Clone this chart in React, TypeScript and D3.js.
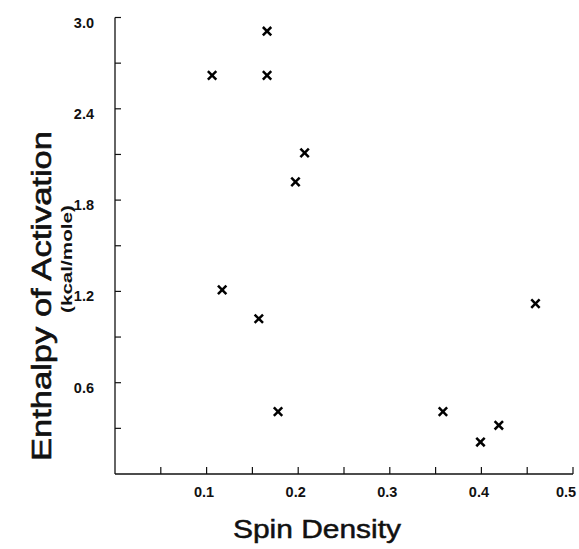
import React from "react";
import * as d3 from "d3";

const spinDensity = [0.106, 0.166, 0.166, 0.207, 0.197, 0.117, 0.157, 0.178, 0.358, 0.399, 0.419, 0.459];
const enthalpy = [2.62, 2.91, 2.62, 2.11, 1.92, 1.21, 1.02, 0.41, 0.41, 0.21, 0.32, 1.12];
const xTicks = [0.05, 0.1, 0.15, 0.2, 0.25, 0.3, 0.35, 0.4, 0.45, 0.5];
const xTickLabels = ["0.1", "0.2", "0.3", "0.4", "0.5"];
const yTicks = [0.3, 0.6, 0.9, 1.2, 1.5, 1.8, 2.1, 2.4, 2.7, 3.0];
const yTickLabels = ["0.6", "1.2", "1.8", "2.4", "3.0"];

const W = 579;
const H = 549;
const FONT = "'Liberation Sans', Arial, Helvetica, sans-serif";

export default function App() {
  const x = d3.scaleLinear().domain([0, 0.5]).range([115, 573]);
  const y = d3.scaleLinear().domain([0, 3.0]).range([474, 17.5]);
  const pts = spinDensity.map((v, i) => ({ x: x(v), y: y(enthalpy[i]) }));
  const r = 4.2;
  return (
    <svg width={W} height={H} style={{ position: "absolute", left: 0, top: 0, background: "#fff" }}>
      <rect x={0} y={0} width={W} height={H} fill="#fff" />
      {/* axes */}
      <line x1={x(0)} x2={x(0)} y1={y(3.0)} y2={y(0)} stroke="#111" strokeWidth={1.3} />
      <line x1={x(0)} x2={x(0.5)} y1={y(0)} y2={y(0)} stroke="#111" strokeWidth={1.3} />
      {yTicks.map((t) => (
        <line key={"yt" + t} x1={x(0)} x2={x(0) + 6} y1={y(t)} y2={y(t)} stroke="#111" strokeWidth={1.2} />
      ))}
      {xTicks.map((t) => (
        <line key={"xt" + t} x1={x(t)} x2={x(t)} y1={y(0)} y2={y(0) - 7} stroke="#111" strokeWidth={1.2} />
      ))}
      {yTickLabels.map((l) => (
        <text key={"yl" + l} x={94} y={y(+l) + 10} textAnchor="end" fontFamily={FONT} fontWeight="bold" fontSize={14.5} fill="#111">
          {l}
        </text>
      ))}
      {xTickLabels.map((l) => (
        <text
          key={"xl" + l}
          x={Math.min(x(+l) - 2.5, W - 13)}
          y={497}
          textAnchor="middle"
          fontFamily={FONT}
          fontWeight="bold"
          fontSize={14.5}
          fill="#111"
        >
          {l}
        </text>
      ))}
      {/* titles */}
      <text
        x={317}
        y={538}
        textAnchor="middle"
        fontFamily={FONT}
        fontSize={26}
        fill="#111"
        stroke="#111"
        strokeWidth={0.5}
        textLength={168}
        lengthAdjust="spacingAndGlyphs"
      >
        Spin Density
      </text>
      <text
        transform={`translate(51,${296}) rotate(-90)`}
        textAnchor="middle"
        fontFamily={FONT}
        fontSize={27}
        fill="#111"
        stroke="#111"
        strokeWidth={0.6}
        textLength={330}
        lengthAdjust="spacingAndGlyphs"
      >
        Enthalpy of Activation
      </text>
      <text
        transform={`translate(72,${259}) rotate(-90)`}
        textAnchor="middle"
        fontFamily={FONT}
        fontWeight="bold"
        fontSize={15}
        fill="#111"
        textLength={108}
        lengthAdjust="spacingAndGlyphs"
      >
        (kcal/mole)
      </text>
      {/* markers */}
      {pts.map((p, i) => (
        <g key={"p" + i} stroke="#000" strokeWidth={2.5} strokeLinecap="butt">
          <line x1={p.x - r} y1={p.y - r} x2={p.x + r} y2={p.y + r} />
          <line x1={p.x - r} y1={p.y + r} x2={p.x + r} y2={p.y - r} />
        </g>
      ))}
    </svg>
  );
}
